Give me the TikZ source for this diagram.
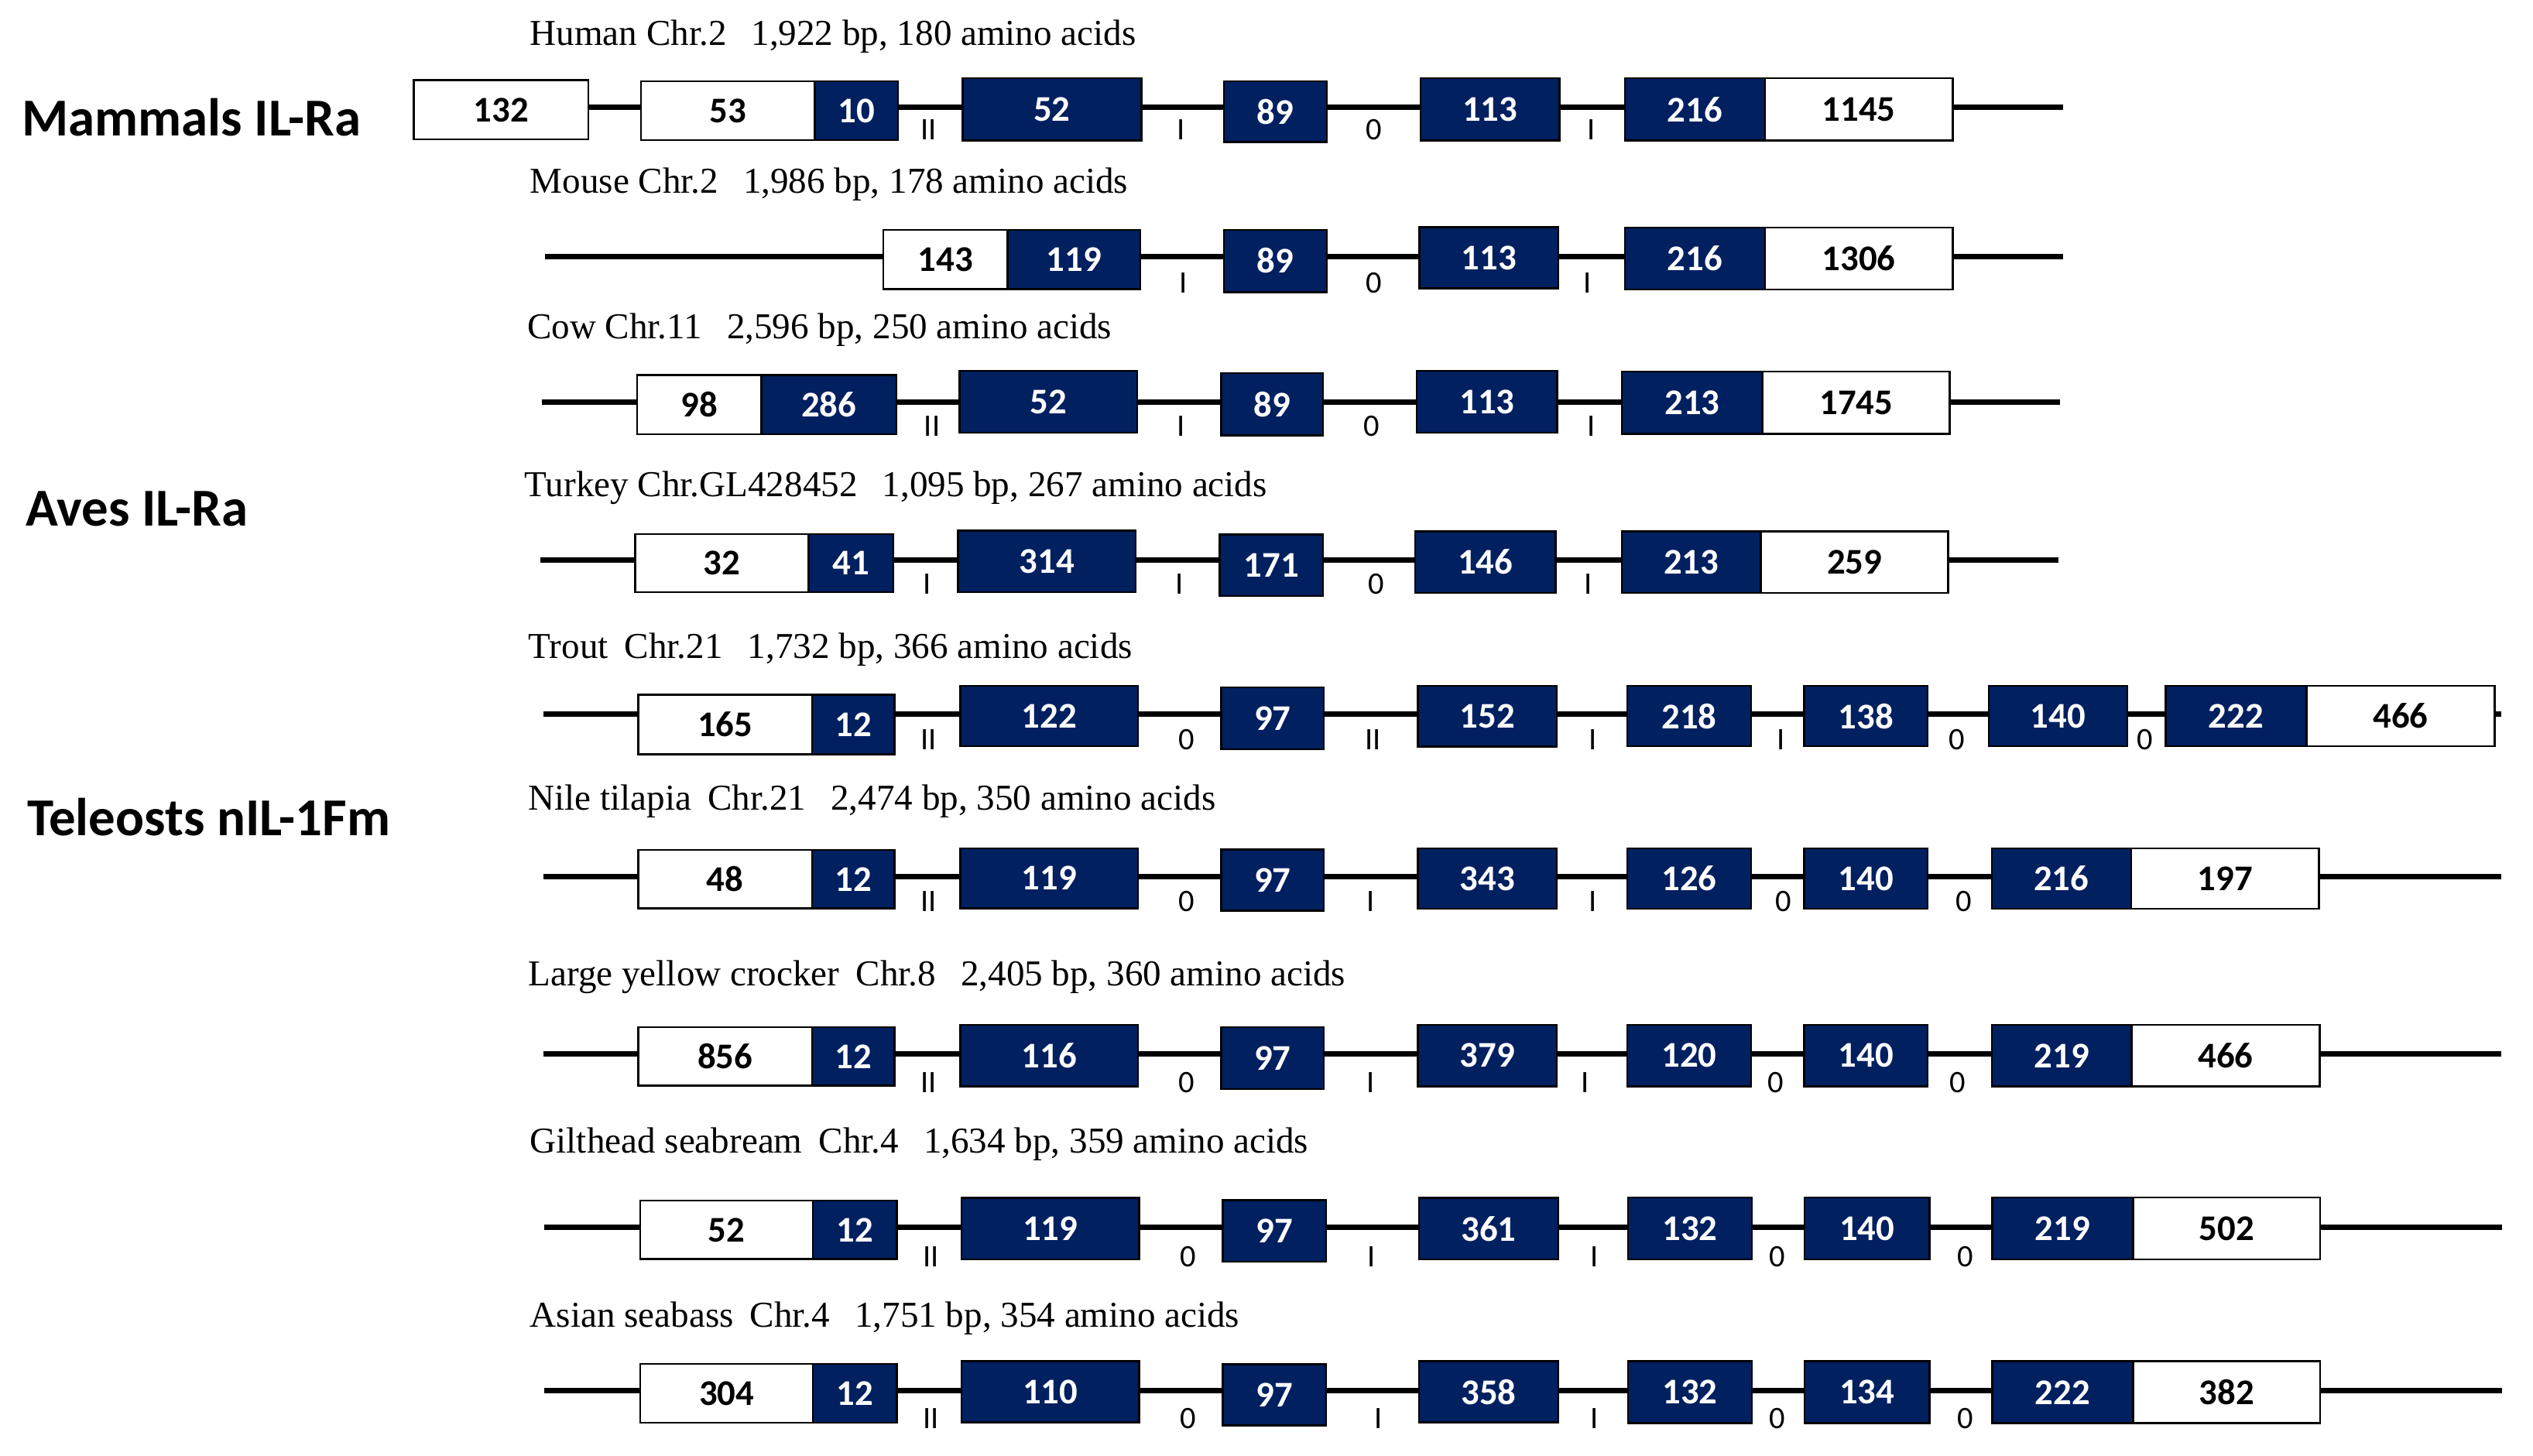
\documentclass[tikz,border=0pt]{standalone}
\usepackage{fontspec}
\setmainfont{Carlito}
\newfontfamily\serifttl{Liberation Serif}
\definecolor{exblue}{HTML}{002060}
\tikzset{
 exbase/.style={rectangle, draw=black, line width=0.7pt, inner sep=0pt, outer sep=0pt, font=\fontsize{13.3}{13.3}\selectfont\bfseries},
 utr/.style={exbase, fill=white, text=black},
 cds/.style={exbase, fill=exblue, text=white},
 intron/.style={line width=2pt, black},
 phase/.style={anchor=base, inner sep=0pt, font=\fontsize{11.5}{11.5}\selectfont},
 spec/.style={anchor=base west, inner sep=0pt, font=\serifttl\fontsize{13.4}{13.4}\selectfont},
 group/.style={anchor=base west, inner sep=0pt, font=\fontsize{19.6}{19.6}\selectfont\bfseries},
}
\newcommand\ex[7]{\node[#2, minimum width={(#4-#3)*0.20867mm}, minimum height={(#6-#5)*0.20867mm}] (#1) at ({(#3+#4)/2},{(#5+#6)/2}) {#7};}
\newcommand\intr[3]{\draw[intron] (#1.east |- #3) -- (#2.west |- #3);}
\newcommand\gapA{\hspace{0.68em}}
\newcommand\gapB{\hspace{0.45em}}
\begin{document}
\begin{tikzpicture}[x=0.20867mm, y=-0.20867mm]
\useasboundingbox (0,0) rectangle (1568,901);
\fill[white] (0,0) rectangle (1568,901);

% group labels
\node[group] (gm) at (13.4,83.9) {Mammals IL-Ra};
\node[group] (ga) at (15.8,325.5) {Aves IL-Ra};
\node[group] (gt) at (16.5,517.2) {Teleosts nIL-1Fm};

% species titles
\node[spec] (t1) at (327.8,27.8) {Human Chr.2\gapA 1,922 bp, 180 amino acids};
\node[spec] (t2) at (327.8,119.8) {Mouse Chr.2\gapA 1,986 bp, 178 amino acids};
\node[spec] (t3) at (326.1,209.6) {Cow Chr.11\gapA 2,596 bp, 250 amino acids};
\node[spec] (t4) at (324.4,307.5) {Turkey Chr.GL428452\gapA 1,095 bp, 267 amino acids};
\node[spec] (t5) at (326.8,407.4) {Trout\gapB Chr.21\gapA 1,732 bp, 366 amino acids};
\node[spec] (t6) at (326.8,501.6) {Nile tilapia\gapB Chr.21\gapA 2,474 bp, 350 amino acids};
\node[spec] (t7) at (326.8,610.2) {Large yellow crocker\gapB Chr.8\gapA 2,405 bp, 360 amino acids};
\node[spec] (t8) at (327.8,714) {Gilthead seabream\gapB Chr.4\gapA 1,634 bp, 359 amino acids};
\node[spec] (t9) at (327.8,821.6) {Asian seabass\gapB Chr.4\gapA 1,751 bp, 354 amino acids};

% ---------- Row 1 Human
\coordinate (l1) at (0,66.3);
\coordinate (z1) at (1277.2,66.3);
\ex{a1}{utr}{256.2}{364.1}{49.7}{86.3}{132}
\ex{a2}{utr}{396.7}{504.3}{50.3}{86.7}{53}
\ex{a3}{cds}{504.3}{555.9}{50.3}{86.7}{10}
\ex{a4}{cds}{595.9}{706.5}{48.4}{87}{52}
\ex{a5}{cds}{757.6}{821.4}{50.3}{88}{89}
\ex{a6}{cds}{879.3}{965.3}{48.4}{87}{113}
\ex{a7}{cds}{1005.9}{1092.6}{48.4}{87}{216}
\ex{a8}{utr}{1092.6}{1208.8}{48.4}{87}{1145}
\intr{a1}{a2}{l1}\intr{a3}{a4}{l1}\intr{a4}{a5}{l1}\intr{a5}{a6}{l1}\intr{a6}{a7}{l1}
\draw[intron] (a8.east |- l1) -- (z1);
\node[phase] (p1a) at (575,86.3) {II};
\node[phase] (p1b) at (731.3,86.3) {I};
\node[phase] (p1c) at (850.4,86.3) {0};
\node[phase] (p1d) at (985.2,86.3) {I};

% ---------- Row 2 Mouse
\coordinate (l2) at (0,159);
\coordinate (s2) at (337.5,159);
\coordinate (z2) at (1277.2,159);
\ex{b1}{utr}{546.8}{623.8}{142.2}{178.9}{143}
\ex{b2}{cds}{623.8}{705.8}{142.2}{178.9}{119}
\ex{b3}{cds}{757.6}{821.4}{142.2}{180.8}{89}
\ex{b4}{cds}{878.6}{964.7}{140.6}{178.4}{113}
\ex{b5}{cds}{1005.9}{1092.6}{141}{179.2}{216}
\ex{b6}{utr}{1092.6}{1208.8}{141}{179.2}{1306}
\draw[intron] (s2) -- (b1.west |- l2);
\intr{b2}{b3}{l2}\intr{b3}{b4}{l2}\intr{b4}{b5}{l2}
\draw[intron] (b6.east |- l2) -- (z2);
\node[phase] (p2a) at (732.4,181.3) {I};
\node[phase] (p2b) at (850.4,181.3) {0};
\node[phase] (p2c) at (982.5,181.3) {I};

% ---------- Row 3 Cow
\coordinate (l3) at (0,248.9);
\coordinate (s3) at (335.5,248.9);
\coordinate (z3) at (1275,248.9);
\ex{c1}{utr}{394.4}{471.3}{232.1}{268.8}{98}
\ex{c2}{cds}{471.3}{555}{232.1}{268.8}{286}
\ex{c3}{cds}{594}{704}{229.5}{268}{52}
\ex{c4}{cds}{756}{819}{231}{269.5}{89}
\ex{c5}{cds}{877}{964}{229.5}{268}{113}
\ex{c6}{cds}{1004}{1091}{230}{268.5}{213}
\ex{c7}{utr}{1091}{1207}{230}{268.5}{1745}
\draw[intron] (s3) -- (c1.west |- l3);
\intr{c2}{c3}{l3}\intr{c3}{c4}{l3}\intr{c4}{c5}{l3}\intr{c5}{c6}{l3}
\draw[intron] (c7.east |- l3) -- (z3);
\node[phase] (p3a) at (577,270) {II};
\node[phase] (p3b) at (731,270) {I};
\node[phase] (p3c) at (849,270) {0};
\node[phase] (p3d) at (985,270) {I};

% ---------- Row 4 Turkey
\coordinate (l4) at (0,346.6);
\coordinate (s4) at (334.5,346.6);
\coordinate (z4) at (1274,346.6);
\ex{d1}{utr}{393.3}{500.6}{330.7}{366.6}{32}
\ex{d2}{cds}{500.6}{553}{330.7}{366.6}{41}
\ex{d3}{cds}{593}{703}{328.5}{366.5}{314}
\ex{d4}{cds}{755}{819}{331}{369}{171}
\ex{d5}{cds}{876}{963}{329}{367}{146}
\ex{d6}{cds}{1004}{1090}{329}{367}{213}
\ex{d7}{utr}{1090}{1206}{329}{367}{259}
\draw[intron] (s4) -- (d1.west |- l4);
\intr{d2}{d3}{l4}\intr{d3}{d4}{l4}\intr{d4}{d5}{l4}\intr{d5}{d6}{l4}
\draw[intron] (d7.east |- l4) -- (z4);
\node[phase] (p4a) at (574,368) {I};
\node[phase] (p4b) at (730,368) {I};
\node[phase] (p4c) at (852,368) {0};
\node[phase] (p4d) at (983,368) {I};

% ---------- Row 5 Trout
\coordinate (l5) at (0,442);
\coordinate (s5) at (336.2,442);
\coordinate (z5) at (1548.2,442);
\ex{e1}{utr}{395}{502.6}{430}{467}{165}
\ex{e2}{cds}{502.6}{553.8}{430}{467}{12}
\ex{e3}{cds}{594.5}{704.5}{424.6}{462}{122}
\ex{e4}{cds}{755.9}{819.5}{425.6}{464}{97}
\ex{e5}{cds}{877.6}{963.7}{424.6}{462.1}{152}
\ex{e6}{cds}{1007.4}{1084}{424.6}{462}{218}
\ex{e7}{cds}{1116.7}{1193.3}{424.6}{462}{138}
\ex{e8}{cds}{1231}{1316.9}{424.6}{462}{140}
\ex{e9}{cds}{1340.6}{1427.7}{424.6}{462}{222}
\ex{e10}{utr}{1427.7}{1544.3}{424.6}{462}{466}
\draw[intron] (s5) -- (e1.west |- l5);
\intr{e2}{e3}{l5}\intr{e3}{e4}{l5}\intr{e4}{e5}{l5}\intr{e5}{e6}{l5}\intr{e6}{e7}{l5}\intr{e7}{e8}{l5}\intr{e8}{e9}{l5}
\draw[intron] (e10.east |- l5) -- (z5);
\node[phase] (p5a) at (575,464) {II};
\node[phase] (p5b) at (734.7,464) {0};
\node[phase] (p5c) at (850,464) {II};
\node[phase] (p5d) at (985.9,464) {I};
\node[phase] (p5e) at (1102.3,464) {I};
\node[phase] (p5f) at (1211.2,464) {0};
\node[phase] (p5g) at (1327.8,464) {0};

% ---------- Row 6 Nile tilapia
\coordinate (l6) at (0,542.8);
\coordinate (s6) at (336.2,542.8);
\coordinate (z6) at (1548.2,542.8);
\ex{f1}{utr}{395}{502.6}{526.3}{562.3}{48}
\ex{f2}{cds}{502.6}{553.8}{526.3}{562.3}{12}
\ex{f3}{cds}{594.5}{704.5}{525.1}{562.3}{119}
\ex{f4}{cds}{755.9}{819.5}{526}{563.9}{97}
\ex{f5}{cds}{877.6}{963.7}{525.1}{562.6}{343}
\ex{f6}{cds}{1007.4}{1084}{525.1}{562.6}{126}
\ex{f7}{cds}{1116.7}{1193.3}{525.1}{562.6}{140}
\ex{f8}{cds}{1232.9}{1319.2}{525.1}{562.6}{216}
\ex{f9}{utr}{1319.2}{1435.5}{525.1}{562.6}{197}
\draw[intron] (s6) -- (f1.west |- l6);
\intr{f2}{f3}{l6}\intr{f3}{f4}{l6}\intr{f4}{f5}{l6}\intr{f5}{f6}{l6}\intr{f6}{f7}{l6}\intr{f7}{f8}{l6}
\draw[intron] (f9.east |- l6) -- (z6);
\node[phase] (p6a) at (575,564.5) {II};
\node[phase] (p6b) at (734.7,564.5) {0};
\node[phase] (p6c) at (848.4,564.5) {I};
\node[phase] (p6d) at (985.9,564.5) {I};
\node[phase] (p6e) at (1104.2,564.5) {0};
\node[phase] (p6f) at (1215.8,564.5) {0};

% ---------- Row 7 Large yellow crocker
\coordinate (l7) at (0,652.6);
\coordinate (s7) at (336.2,652.6);
\coordinate (z7) at (1548.2,652.6);
\ex{g1}{utr}{395}{502.6}{636}{672.2}{856}
\ex{g2}{cds}{502.6}{553.8}{636}{672.2}{12}
\ex{g3}{cds}{594.5}{704.5}{634.6}{672.5}{116}
\ex{g4}{cds}{755.9}{819.5}{635.8}{674.3}{97}
\ex{g5}{cds}{877.6}{963.7}{634.6}{672.5}{379}
\ex{g6}{cds}{1007.4}{1084}{634.6}{672.5}{120}
\ex{g7}{cds}{1116.7}{1193.3}{634.6}{672.5}{140}
\ex{g8}{cds}{1232.9}{1319.6}{634.6}{672.5}{219}
\ex{g9}{utr}{1319.6}{1435.9}{634.6}{672.5}{466}
\draw[intron] (s7) -- (g1.west |- l7);
\intr{g2}{g3}{l7}\intr{g3}{g4}{l7}\intr{g4}{g5}{l7}\intr{g5}{g6}{l7}\intr{g6}{g7}{l7}\intr{g7}{g8}{l7}
\draw[intron] (g9.east |- l7) -- (z7);
\node[phase] (p7a) at (575,676.6) {II};
\node[phase] (p7b) at (734.7,676.6) {0};
\node[phase] (p7c) at (848.4,676.6) {I};
\node[phase] (p7d) at (981.2,676.6) {I};
\node[phase] (p7e) at (1099.2,676.6) {0};
\node[phase] (p7f) at (1211.6,676.6) {0};

% ---------- Row 8 Gilthead seabream
\coordinate (l8) at (0,759.6);
\coordinate (s8) at (336.9,759.6);
\coordinate (z8) at (1549,759.6);
\ex{h1}{utr}{396.3}{503.3}{743.3}{779.5}{52}
\ex{h2}{cds}{503.3}{555.2}{743.3}{779.5}{12}
\ex{h3}{cds}{595.2}{705.1}{741.5}{779.8}{119}
\ex{h4}{cds}{756.9}{820.8}{743.1}{781}{97}
\ex{h5}{cds}{878.3}{964.7}{741.5}{779.8}{361}
\ex{h6}{cds}{1007.8}{1084.4}{741.4}{779.8}{132}
\ex{h7}{cds}{1117.1}{1194.4}{741.4}{779.8}{140}
\ex{h8}{cds}{1233.3}{1320.4}{741.4}{779.8}{219}
\ex{h9}{utr}{1320.4}{1436.2}{741.4}{779.8}{502}
\draw[intron] (s8) -- (h1.west |- l8);
\intr{h2}{h3}{l8}\intr{h3}{h4}{l8}\intr{h4}{h5}{l8}\intr{h5}{h6}{l8}\intr{h6}{h7}{l8}\intr{h7}{h8}{l8}
\draw[intron] (h9.east |- l8) -- (z8);
\node[phase] (p8a) at (576.4,784) {II};
\node[phase] (p8b) at (735.7,784) {0};
\node[phase] (p8c) at (849,784) {I};
\node[phase] (p8d) at (986.9,784) {I};
\node[phase] (p8e) at (1100.3,784) {0};
\node[phase] (p8f) at (1216.6,784) {0};

% ---------- Row 9 Asian seabass
\coordinate (l9) at (0,860.9);
\coordinate (s9) at (336.9,860.9);
\coordinate (z9) at (1549,860.9);
\ex{i1}{utr}{396.3}{503.3}{844.4}{880.7}{304}
\ex{i2}{cds}{503.3}{555.2}{844.4}{880.7}{12}
\ex{i3}{cds}{595.2}{705.1}{842.8}{880.5}{110}
\ex{i4}{cds}{756.9}{820.8}{844.5}{882.5}{97}
\ex{i5}{cds}{878.3}{964.7}{842.8}{880.5}{358}
\ex{i6}{cds}{1007.8}{1084.4}{842.8}{881.1}{132}
\ex{i7}{cds}{1117.1}{1194.4}{842.8}{881.1}{134}
\ex{i8}{cds}{1233.3}{1320.4}{842.8}{881.1}{222}
\ex{i9}{utr}{1320.4}{1436.2}{842.8}{881.1}{382}
\draw[intron] (s9) -- (i1.west |- l9);
\intr{i2}{i3}{l9}\intr{i3}{i4}{l9}\intr{i4}{i5}{l9}\intr{i5}{i6}{l9}\intr{i6}{i7}{l9}\intr{i7}{i8}{l9}
\draw[intron] (i9.east |- l9) -- (z9);
\node[phase] (p9a) at (576.4,884.6) {II};
\node[phase] (p9b) at (735.7,884.6) {0};
\node[phase] (p9c) at (853.5,884.6) {I};
\node[phase] (p9d) at (986.9,884.6) {I};
\node[phase] (p9e) at (1100.3,884.6) {0};
\node[phase] (p9f) at (1216.6,884.6) {0};
\end{tikzpicture}
\end{document}
